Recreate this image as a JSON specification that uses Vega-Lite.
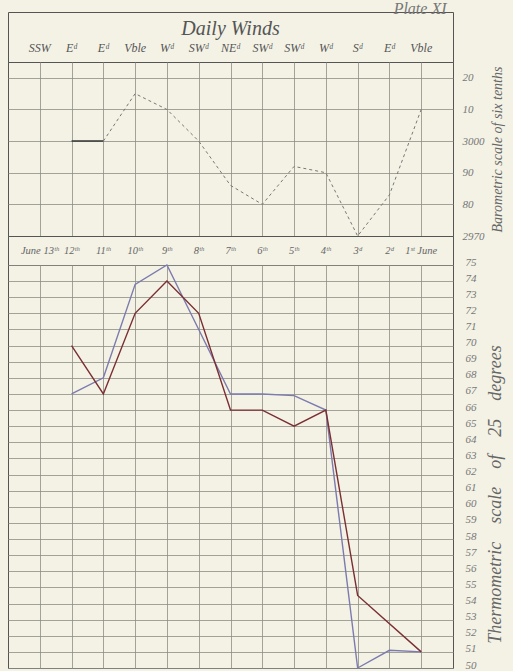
{
  "$schema": "https://vega.github.io/schema/vega-lite/v6.json",
  "background": "#f3f2e5",
  "padding": {"left": 7, "top": 0, "right": 8, "bottom": 3},
  "title": {"text": "Plate XI", "anchor": "end", "fontSize": 16, "fontStyle": "italic", "font": "Liberation Serif", "fontWeight": "normal", "color": "#777", "offset": -5, "dx": -58},
  "datasets": {
    "winds": [
      {"day": 13, "wind": "SSW"}, {"day": 12, "wind": "Eᵈ"}, {"day": 11, "wind": "Eᵈ"},
      {"day": 10, "wind": "Vble"}, {"day": 9, "wind": "Wᵈ"}, {"day": 8, "wind": "SWᵈ"},
      {"day": 7, "wind": "NEᵈ"}, {"day": 6, "wind": "SWᵈ"}, {"day": 5, "wind": "SWᵈ"},
      {"day": 4, "wind": "Wᵈ"}, {"day": 3, "wind": "Sᵈ"}, {"day": 2, "wind": "Eᵈ"},
      {"day": 1, "wind": "Vble"}
    ],
    "dates": [
      {"day": 13, "label": "June 13ᵗʰ"}, {"day": 12, "label": "12ᵗʰ"}, {"day": 11, "label": "11ᵗʰ"},
      {"day": 10, "label": "10ᵗʰ"}, {"day": 9, "label": "9ᵗʰ"}, {"day": 8, "label": "8ᵗʰ"},
      {"day": 7, "label": "7ᵗʰ"}, {"day": 6, "label": "6ᵗʰ"}, {"day": 5, "label": "5ᵗʰ"},
      {"day": 4, "label": "4ᵗʰ"}, {"day": 3, "label": "3ᵈ"}, {"day": 2, "label": "2ᵈ"},
      {"day": 1, "label": "1ˢᵗ June"}
    ],
    "baro": [
      {"day": 12, "pressure": 3000}, {"day": 11, "pressure": 3000}, {"day": 10, "pressure": 3015},
      {"day": 9, "pressure": 3010}, {"day": 8, "pressure": 3000}, {"day": 7, "pressure": 2986},
      {"day": 6, "pressure": 2980}, {"day": 5, "pressure": 2992}, {"day": 4, "pressure": 2990},
      {"day": 3, "pressure": 2970}, {"day": 2, "pressure": 2983}, {"day": 1, "pressure": 3010}
    ],
    "thermo": [
      {"series": "A", "day": 12, "temp": 67}, {"series": "A", "day": 11, "temp": 68},
      {"series": "A", "day": 10, "temp": 73.8}, {"series": "A", "day": 9, "temp": 75},
      {"series": "A", "day": 8, "temp": 71}, {"series": "A", "day": 7, "temp": 67},
      {"series": "A", "day": 6, "temp": 67}, {"series": "A", "day": 5, "temp": 66.9},
      {"series": "A", "day": 4, "temp": 66}, {"series": "A", "day": 3, "temp": 50},
      {"series": "A", "day": 2, "temp": 51.1}, {"series": "A", "day": 1, "temp": 51},
      {"series": "B", "day": 12, "temp": 70}, {"series": "B", "day": 11, "temp": 67},
      {"series": "B", "day": 10, "temp": 72}, {"series": "B", "day": 9, "temp": 74},
      {"series": "B", "day": 8, "temp": 72}, {"series": "B", "day": 7, "temp": 66},
      {"series": "B", "day": 6, "temp": 66}, {"series": "B", "day": 5, "temp": 65},
      {"series": "B", "day": 4, "temp": 66}, {"series": "B", "day": 3, "temp": 54.5},
      {"series": "B", "day": 1, "temp": 51}
    ]
  },
  "vconcat": [
    {
      "width": 445,
      "height": 50,
      "title": {"text": "Daily Winds", "offset": -27, "fontSize": 20, "fontStyle": "italic", "font": "Liberation Serif", "fontWeight": "normal", "color": "#555"},
      "data": {"name": "winds"},
      "mark": {"type": "text", "font": "Liberation Serif", "fontStyle": "italic", "fontSize": 12, "color": "#555", "dy": 11},
      "encoding": {
        "x": {"field": "day", "type": "quantitative", "scale": {"domain": [14, 0], "nice": false}, "axis": null},
        "text": {"field": "wind"}
      }
    },
    {
      "width": 445,
      "height": 174,
      "data": {"name": "baro"},
      "encoding": {
        "x": {"field": "day", "type": "quantitative", "scale": {"domain": [14, 0], "nice": false},
              "axis": {"values": [1,2,3,4,5,6,7,8,9,10,11,12,13], "labels": false, "ticks": false, "domain": false, "title": null, "grid": true, "gridColor": "#8d8d85", "gridWidth": 0.8}},
        "y": {"field": "pressure", "type": "quantitative", "scale": {"domain": [2970, 3025], "nice": false, "zero": false},
              "axis": {"orient": "right", "values": [2970, 2980, 2990, 3000, 3010, 3020], "labelExpr": "datum.value == 2970 || datum.value == 3000 ? datum.value : datum.value % 100",
                       "grid": true, "gridColor": "#8d8d85", "gridWidth": 0.8, "ticks": false, "domain": false, "labelOverlap": false,
                       "labelFont": "Liberation Serif", "labelFontStyle": "italic", "labelFontSize": 11, "labelColor": "#777", "labelPadding": 9,
                       "title": "Barometric scale of six tenths", "titleAngle": 270, "titleX": 51, "titleFont": "Liberation Serif", "titleFontStyle": "italic", "titleFontWeight": "normal", "titleFontSize": 14, "titleColor": "#666"}}
      },
      "layer": [
        {"transform": [{"filter": "datum.day >= 11"}], "mark": {"type": "line", "color": "#333", "strokeWidth": 1.5}},
        {"transform": [{"filter": "datum.day <= 11"}], "mark": {"type": "line", "color": "#777", "strokeWidth": 1, "strokeDash": [3, 3]}}
      ]
    },
    {
      "width": 445,
      "height": 29,
      "data": {"name": "dates"},
      "mark": {"type": "text", "font": "Liberation Serif", "fontStyle": "italic", "fontSize": 10.5, "color": "#666"},
      "encoding": {
        "x": {"field": "day", "type": "quantitative", "scale": {"domain": [14, 0], "nice": false}, "axis": null},
        "text": {"field": "label"}
      }
    },
    {
      "width": 445,
      "height": 403,
      "data": {"name": "thermo"},
      "mark": {"type": "line", "strokeWidth": 1.4},
      "encoding": {
        "x": {"field": "day", "type": "quantitative", "scale": {"domain": [14, 0], "nice": false},
              "axis": {"values": [1,2,3,4,5,6,7,8,9,10,11,12,13], "labels": false, "ticks": false, "domain": false, "title": null, "grid": true, "gridColor": "#8d8d85", "gridWidth": 0.8}},
        "y": {"field": "temp", "type": "quantitative", "scale": {"domain": [50, 75], "nice": false, "zero": false},
              "axis": {"orient": "right", "values": [50,51,52,53,54,55,56,57,58,59,60,61,62,63,64,65,66,67,68,69,70,71,72,73,74,75],
                       "grid": true, "gridColor": "#8d8d85", "gridWidth": 0.8, "ticks": false, "domain": false, "labelOverlap": false,
                       "labelFont": "Liberation Serif", "labelFontStyle": "italic", "labelFontSize": 11, "labelColor": "#777", "labelPadding": 12, "labelOffset": -3,
                       "title": "Thermometric\u2003scale\u2003of\u200325\u2003degrees", "titleAngle": 270, "titleX": 51, "titleY": 229, "titleFont": "Liberation Serif", "titleFontStyle": "italic", "titleFontWeight": "normal", "titleFontSize": 18, "titleColor": "#666"}},
        "color": {"field": "series", "type": "nominal", "scale": {"domain": ["A", "B"], "range": ["#7d7aae", "#7a2f33"]}, "legend": null}
      }
    }
  ],
  "spacing": 0,
  "bounds": "flush",
  "config": {
    "view": {"stroke": "#555", "strokeWidth": 1},
    "font": "Liberation Serif"
  }
}
